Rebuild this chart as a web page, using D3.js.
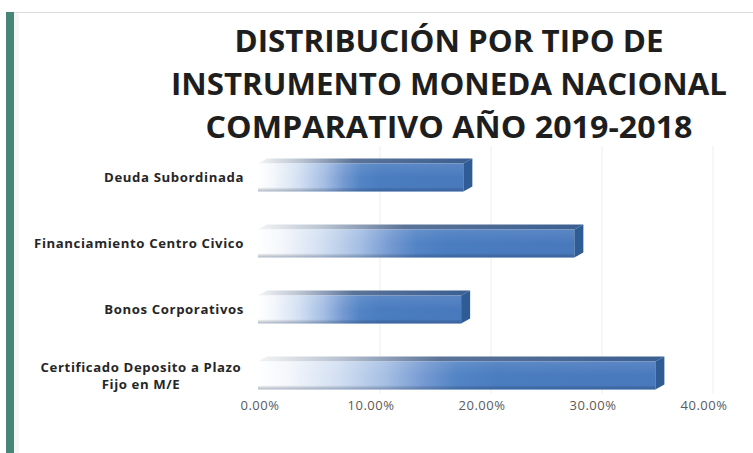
<!DOCTYPE html>
<html><head><meta charset="utf-8">
<script src="https://cdn.jsdelivr.net/npm/d3@7"></script>
<style>
html,body{margin:0;padding:0;background:#fff;}
svg{display:block;}
</style></head>
<body>
<script>
// ---- data ----
const titleLines = ["DISTRIBUCIÓN POR TIPO DE", "INSTRUMENTO MONEDA NACIONAL", "COMPARATIVO AÑO 2019-2018"];
const categories = ["Deuda Subordinada", "Financiamiento Centro Civico", "Bonos Corporativos", "Certificado Deposito a Plazo Fijo en M/E"];
const categoryLines = [["Deuda Subordinada"], ["Financiamiento Centro Civico"], ["Bonos Corporativos"], ["Certificado Deposito a Plazo", "Fijo en M/E"]];
const values = [0.185, 0.285, 0.183, 0.358];
const tickValues = [0, 0.1, 0.2, 0.3, 0.4];
const tickLabels = ["0.00%", "10.00%", "20.00%", "30.00%", "40.00%"];

const W = 753, H = 453;
const svg = d3.select("body").append("svg").attr("width", W).attr("height", H);

// frame
svg.append("rect").attr("x", 0).attr("y", 0).attr("width", W).attr("height", H).attr("fill", "#fff");
svg.append("line").attr("x1", 14).attr("x2", W).attr("y1", 12.5).attr("y2", 12.5).attr("stroke", "#dcdcdc").attr("stroke-width", 1);
svg.append("rect").attr("x", 14).attr("y", 13).attr("width", 5).attr("height", H - 13).attr("fill", "#f6f6f6");
svg.append("rect").attr("x", 6).attr("y", 12).attr("width", 8).attr("height", H - 12).attr("fill", "#478676");

// title
const titleWidths = [429, 556, 487];
svg.append("g").selectAll("text").data(titleLines).join("text")
  .attr("x", 449).attr("y", (d, i) => 52 + i * 43)
  .attr("text-anchor", "middle")
  .attr("font-family", "'Open Sans', sans-serif").attr("font-weight", 700)
  .attr("font-size", 31).attr("fill", "#1e1e1e")
  .attr("textLength", (d, i) => titleWidths[i]).attr("lengthAdjust", "spacingAndGlyphs")
  .text(d => d);

// scales
const x = d3.scaleLinear().domain([0, 0.4]).range([258, 702]);
const y = d3.scaleBand().domain(categories).range([142, 406]).paddingInner(0.5).paddingOuter(0.25);
const dx = 9, dy = -5;

// gridlines (back wall)
svg.append("g").selectAll("line").data(tickValues.slice(1)).join("line")
  .attr("x1", d => x(d) + dx + 2).attr("x2", d => x(d) + dx + 2)
  .attr("y1", 146).attr("y2", 394)
  .attr("stroke", "#eeeeee").attr("stroke-width", 1);

// gradients
const defs = svg.append("defs");
const gFront = defs.append("linearGradient").attr("id", "gFront")
  .attr("x1", 0).attr("x2", 1).attr("y1", 0).attr("y2", 0);
[[0, "#ffffff"], [0.08, "#f3f6fb"], [0.2, "#d3e0f2"], [0.32, "#a6bfe4"], [0.42, "#7499d1"], [0.5, "#5384c5"], [0.6, "#4a7cc0"], [1, "#4979bd"]]
  .forEach(([o, c]) => gFront.append("stop").attr("offset", o).attr("stop-color", c));
const gShade = defs.append("linearGradient").attr("id", "gShade")
  .attr("x1", 0).attr("x2", 0).attr("y1", 0).attr("y2", 1);
[[0, "#ffffff", 0.10], [0.5, "#ffffff", 0], [0.85, "#000000", 0], [1, "#1f3f6e", 0.35]]
  .forEach(([o, c, a]) => gShade.append("stop").attr("offset", o).attr("stop-color", c).attr("stop-opacity", a));
const gTop = defs.append("linearGradient").attr("id", "gTop")
  .attr("x1", 0).attr("x2", 1).attr("y1", 0).attr("y2", 0);
[[0, "#f4f4f4"], [0.2, "#b9c3d2"], [0.45, "#5b7398"], [1, "#3a5f91"]]
  .forEach(([o, c]) => gTop.append("stop").attr("offset", o).attr("stop-color", c));

// bars
const bars = svg.append("g").selectAll("g").data(categories).join("g");
bars.append("path") // top face
  .attr("d", (d, i) => {
    const y0 = y(d), x0 = x(0), x1 = x(values[i]);
    return `M${x0},${y0 - dy}L${x1},${y0 - dy}L${x1 + dx},${y0}L${x0 + dx},${y0}Z`;
  })
  .attr("fill", "url(#gTop)");
bars.append("rect") // front face
  .attr("x", d => x(0)).attr("y", d => y(d) - dy)
  .attr("width", (d, i) => x(values[i]) - x(0)).attr("height", y.bandwidth() + dy)
  .attr("fill", "url(#gFront)");
bars.append("rect")
  .attr("x", d => x(0)).attr("y", d => y(d) - dy)
  .attr("width", (d, i) => x(values[i]) - x(0)).attr("height", y.bandwidth() + dy)
  .attr("fill", "url(#gShade)");
bars.append("path") // side face
  .attr("d", (d, i) => {
    const y0 = y(d), x1 = x(values[i]), b = y.bandwidth();
    return `M${x1},${y0 - dy}L${x1 + dx},${y0}L${x1 + dx},${y0 + b + dy}L${x1},${y0 + b}Z`;
  })
  .attr("fill", "#2f5c94");

// category labels
const labels = svg.append("g").selectAll("text").data(categories).join("text")
  .attr("font-family", "'Open Sans', sans-serif").attr("font-weight", 700)
  .attr("font-size", 13.2).attr("letter-spacing", 0.6).attr("fill", "#262626")
  .attr("text-anchor", "end");
labels.each(function (d, i) {
  const lines = categoryLines[i];
  const t = d3.select(this);
  const cy = y(d) + y.bandwidth() / 2 + 3;
  const start = cy - (lines.length - 1) * 8 + 4;
  if (lines.length === 1) {
    t.append("tspan").attr("x", 244).attr("y", start).text(lines[0]);
  } else {
    t.attr("text-anchor", "middle");
    lines.forEach((l, k) => t.append("tspan").attr("x", 141).attr("y", start + k * 17).text(l));
  }
});

// x axis labels
svg.append("g").selectAll("text").data(tickValues).join("text")
  .attr("x", d => x(d) + 2).attr("y", 410)
  .attr("text-anchor", "middle")
  .attr("font-family", "'Open Sans', sans-serif").attr("font-size", 13)
  .attr("letter-spacing", 0.5)
  .attr("fill", "#5a5a5a")
  .text((d, i) => tickLabels[i]);
</script>
</body></html>
